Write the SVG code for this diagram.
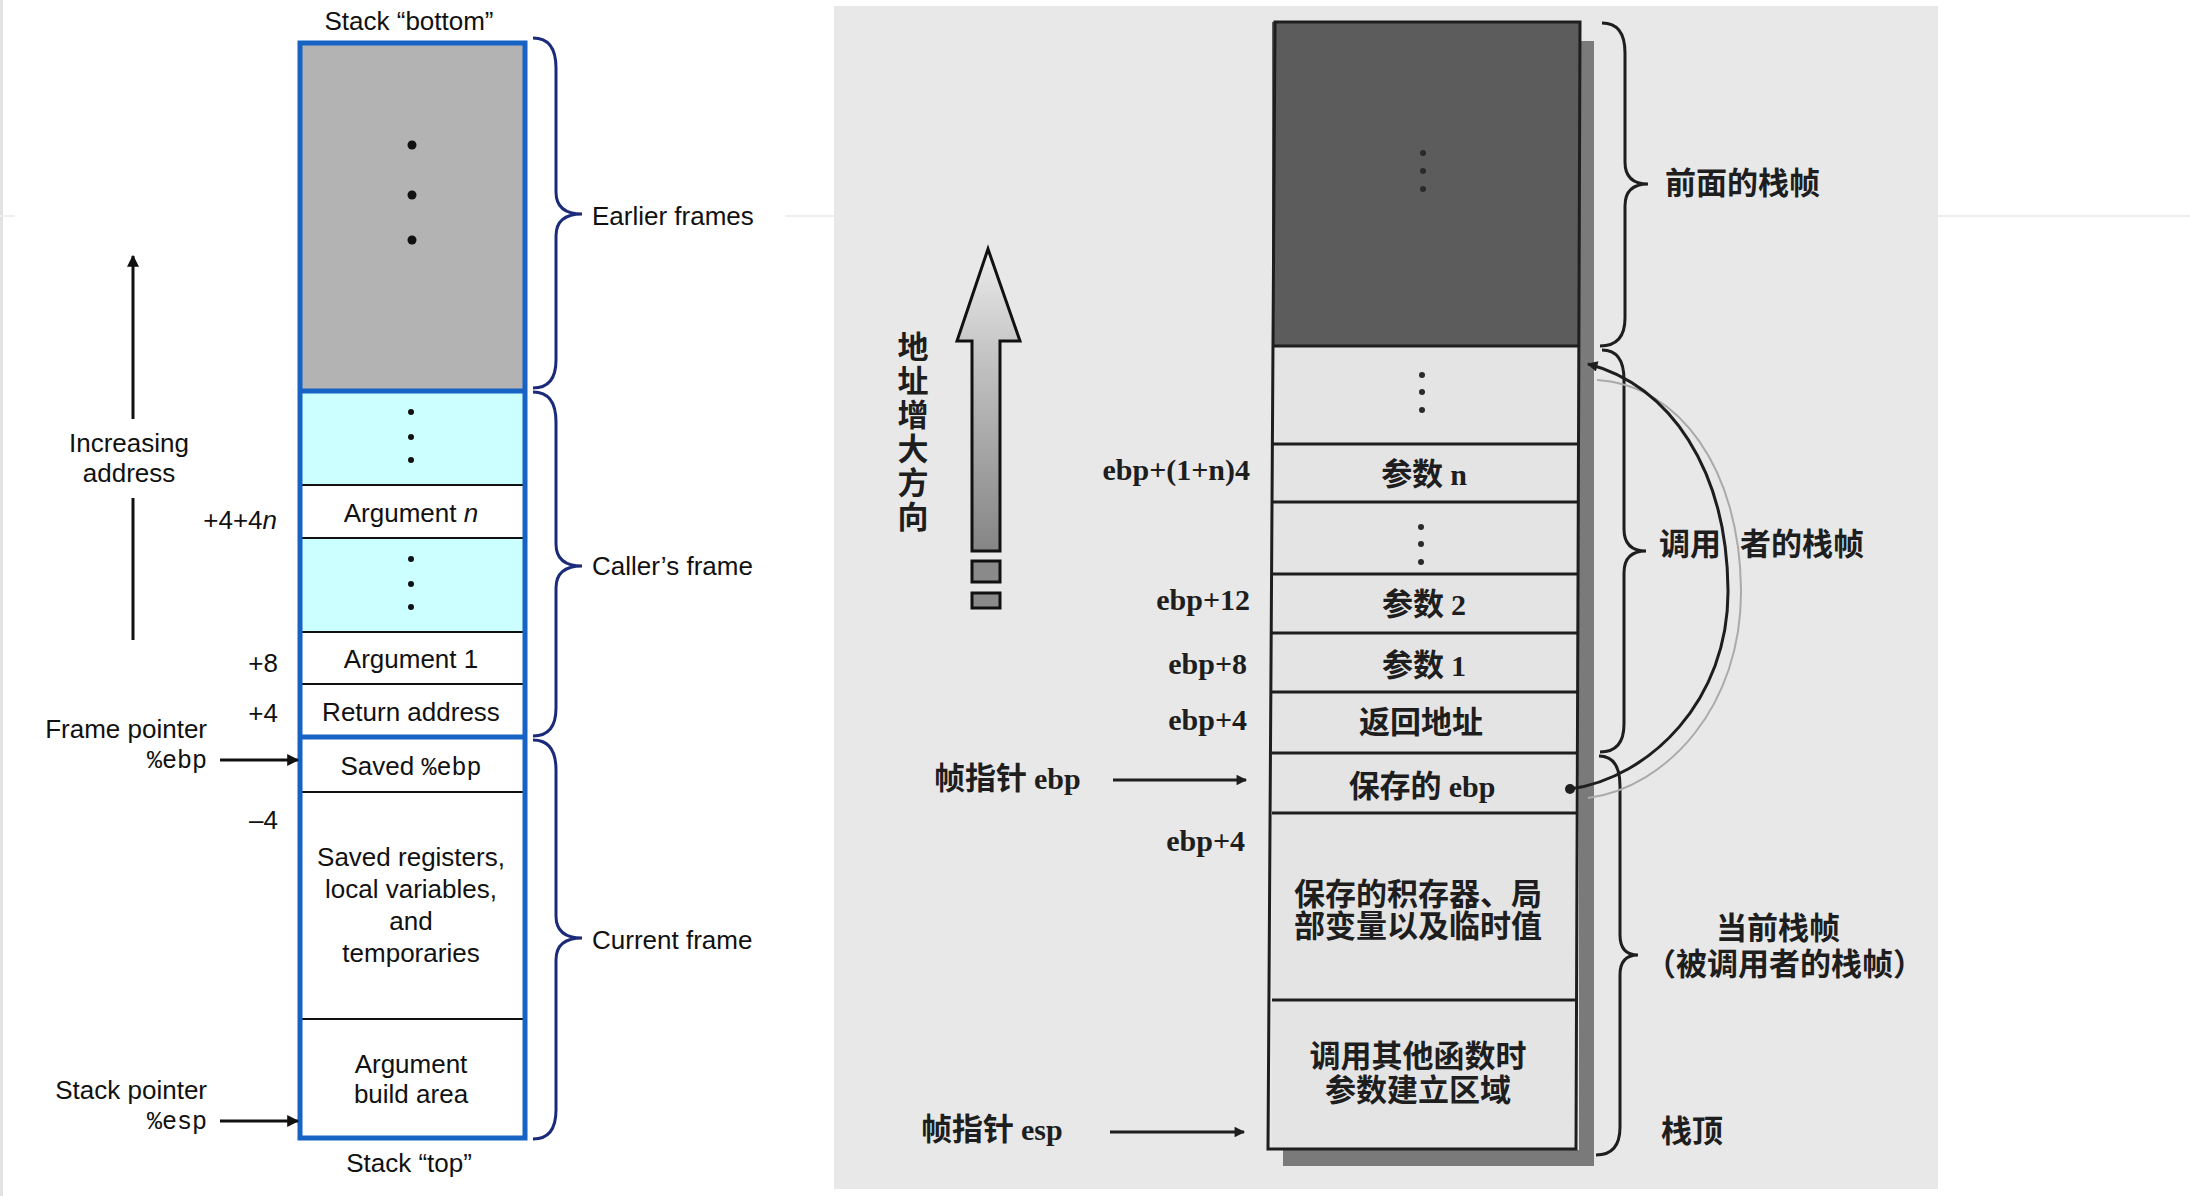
<svg xmlns="http://www.w3.org/2000/svg" width="2190" height="1196" viewBox="0 0 2190 1196">
<defs>
<style>
.sans{font-family:"Liberation Sans",Arial,sans-serif;font-size:26px;fill:#111}
.mono{font-family:"Liberation Mono","Courier New",monospace;font-size:25px;fill:#111}
.mid{text-anchor:middle}
.end{text-anchor:end}
.cell{fill:none;stroke:#111;stroke-width:2}
.blue{fill:none;stroke:#1763c4;stroke-width:5}
.brace{fill:none;stroke:#1c2a7a;stroke-width:3}
.rbrace{fill:none;stroke:#1e1e1e;stroke-width:3}
.cjk{font-family:"Noto Sans CJK SC","Noto Sans CJK TC",sans-serif;font-size:31px;font-weight:bold;fill:#1e1e1e}
.ser{font-family:"Liberation Serif","Times New Roman",serif;font-size:30px;font-weight:bold;fill:#1e1e1e}
.rline{fill:none;stroke:#1e1e1e;stroke-width:3}
.dot{fill:#111}
.rdot{fill:#2a2a2a}
</style>
<marker id="ah" viewBox="0 0 10 10" refX="9" refY="5" markerWidth="4" markerHeight="4" orient="auto" markerUnits="strokeWidth">
<path d="M0,0 L10,5 L0,10 z" fill="#111"/>
</marker>
<marker id="rah" viewBox="0 0 10 10" refX="9" refY="5" markerWidth="5" markerHeight="3.5" orient="auto" markerUnits="strokeWidth">
<path d="M0,0 L10,5 L0,10 z" fill="#1e1e1e"/>
</marker>
<linearGradient id="ag" x1="0" y1="0" x2="0" y2="1">
<stop offset="0" stop-color="#ececec"/>
<stop offset="0.35" stop-color="#c4c4c4"/>
<stop offset="1" stop-color="#858585"/>
</linearGradient>
</defs>
<rect x="0" y="0" width="2190" height="1196" fill="#ffffff"/>
<rect x="0" y="0" width="3" height="1196" fill="#e2e2e2"/>
<line x1="0" y1="216" x2="15" y2="216" stroke="#eeeeee" stroke-width="2"/>
<line x1="785" y1="216" x2="834" y2="216" stroke="#eeeeee" stroke-width="2"/>
<line x1="1938" y1="216" x2="2190" y2="216" stroke="#eeeeee" stroke-width="2"/>

<!-- LEFT DIAGRAM -->
<g id="left-stack">
<g id="l-earlier">
<rect x="300" y="43" width="225" height="348" fill="#b3b3b3"/>
<circle class="dot" cx="412" cy="145" r="4.5"/>
<circle class="dot" cx="412" cy="195" r="4.5"/>
<circle class="dot" cx="412" cy="240" r="4.5"/>
</g>
<g id="l-dots1">
<rect x="300" y="391" width="225" height="94" fill="#ccffff"/>
<circle class="dot" cx="411" cy="412" r="3"/>
<circle class="dot" cx="411" cy="437" r="3"/>
<circle class="dot" cx="411" cy="460" r="3"/>
</g>
<g id="l-argn">
<rect x="300" y="485" width="225" height="53" fill="#ffffff"/>
<text class="sans mid" x="411" y="522">Argument <tspan font-style="italic">n</tspan></text>
</g>
<g id="l-dots2">
<rect x="300" y="538" width="225" height="94" fill="#ccffff"/>
<circle class="dot" cx="411" cy="559" r="3"/>
<circle class="dot" cx="411" cy="584" r="3"/>
<circle class="dot" cx="411" cy="607" r="3"/>
</g>
<g id="l-arg1">
<rect x="300" y="632" width="225" height="52" fill="#ffffff"/>
<text class="sans mid" x="411" y="668">Argument 1</text>
</g>
<g id="l-ret">
<rect x="300" y="684" width="225" height="53" fill="#ffffff"/>
<text class="sans mid" x="411" y="721">Return address</text>
</g>
<g id="l-savedebp">
<rect x="300" y="737" width="225" height="55" fill="#ffffff"/>
<text class="sans mid" x="411" y="775">Saved <tspan class="mono">%ebp</tspan></text>
</g>
<g id="l-savedregs">
<rect x="300" y="792" width="225" height="227" fill="#ffffff"/>
<text class="sans mid" x="411" y="866">Saved registers,</text>
<text class="sans mid" x="411" y="898">local variables,</text>
<text class="sans mid" x="411" y="930">and</text>
<text class="sans mid" x="411" y="962">temporaries</text>
</g>
<g id="l-argbuild">
<rect x="300" y="1019" width="225" height="119" fill="#ffffff"/>
<text class="sans mid" x="411" y="1073">Argument</text>
<text class="sans mid" x="411" y="1103">build area</text>
</g>
<line class="cell" x1="300" y1="485" x2="525" y2="485"/>
<line class="cell" x1="300" y1="538" x2="525" y2="538"/>
<line class="cell" x1="300" y1="632" x2="525" y2="632"/>
<line class="cell" x1="300" y1="684" x2="525" y2="684"/>
<line class="cell" x1="300" y1="792" x2="525" y2="792"/>
<line class="cell" x1="300" y1="1019" x2="525" y2="1019"/>
<line class="blue" x1="300" y1="391" x2="525" y2="391"/>
<line class="blue" x1="300" y1="737" x2="525" y2="737"/>
<rect class="blue" x="300" y="43" width="225" height="1095"/>
</g>

<g id="left-labels">
<text class="sans mid" x="409" y="30">Stack “bottom”</text>
<text class="sans mid" x="409" y="1172">Stack “top”</text>
<text class="sans mid" x="129" y="452">Increasing</text>
<text class="sans mid" x="129" y="482">address</text>
<text class="sans end" x="277" y="529">+4+4<tspan font-style="italic">n</tspan></text>
<text class="sans end" x="278" y="672">+8</text>
<text class="sans end" x="278" y="722">+4</text>
<text class="sans end" x="278" y="829">–4</text>
<text class="sans end" x="207" y="738">Frame pointer</text>
<text class="mono end" x="207" y="768">%ebp</text>
<text class="sans end" x="207" y="1099">Stack pointer</text>
<text class="mono end" x="207" y="1129">%esp</text>
<text class="sans" x="592" y="225">Earlier frames</text>
<text class="sans" x="592" y="575">Caller’s frame</text>
<text class="sans" x="592" y="949">Current frame</text>
</g>

<g id="left-braces">
<path class="brace" d="M533,38 Q556,38 556,68 L556,192 Q556,214 582,214 Q556,214 556,236 L556,360 Q556,388 533,388"/>
<path class="brace" d="M533,392 Q556,392 556,422 L556,544 Q556,566 582,566 Q556,566 556,588 L556,708 Q556,736 533,736"/>
<path class="brace" d="M533,740 Q556,740 556,770 L556,916 Q556,938 582,938 Q556,938 556,960 L556,1110 Q556,1139 533,1139"/>
</g>

<!-- RIGHT PANEL -->
<g id="right-panel">
<rect x="834" y="6" width="1104" height="1183" fill="#e8e8e8"/>
<rect x="1579" y="41" width="15" height="1125" fill="#7a7a7a"/>
<rect x="1283" y="1150" width="311" height="16" fill="#7a7a7a"/>
</g>

<g id="right-stack">
<g id="r-earlier">
<rect x="1272" y="22" width="307" height="324" fill="#5c5c5c"/>
<circle class="rdot" cx="1423" cy="153" r="3"/>
<circle class="rdot" cx="1423" cy="171" r="3"/>
<circle class="rdot" cx="1423" cy="189" r="3"/>
</g>
<g id="r-dots1">
<rect x="1272" y="346" width="305" height="98" fill="#e4e4e4"/>
<circle class="rdot" cx="1422" cy="375" r="3"/>
<circle class="rdot" cx="1422" cy="392" r="3"/>
<circle class="rdot" cx="1422" cy="410" r="3"/>
</g>
<g id="r-argn">
<rect x="1272" y="444" width="305" height="58" fill="#e4e4e4"/>
<text class="cjk mid" x="1424" y="485">参数 <tspan class="ser">n</tspan></text>
</g>
<g id="r-dots2">
<rect x="1272" y="502" width="305" height="72" fill="#e4e4e4"/>
<circle class="rdot" cx="1421" cy="527" r="3"/>
<circle class="rdot" cx="1421" cy="544" r="3"/>
<circle class="rdot" cx="1421" cy="562" r="3"/>
</g>
<g id="r-arg2">
<rect x="1272" y="574" width="305" height="59" fill="#e4e4e4"/>
<text class="cjk mid" x="1424" y="615">参数 <tspan class="ser">2</tspan></text>
</g>
<g id="r-arg1">
<rect x="1272" y="633" width="305" height="59" fill="#e4e4e4"/>
<text class="cjk mid" x="1424" y="676">参数 <tspan class="ser">1</tspan></text>
</g>
<g id="r-ret">
<rect x="1272" y="692" width="305" height="61" fill="#e4e4e4"/>
<text class="cjk mid" x="1421" y="733">返回地址</text>
</g>
<g id="r-savedebp">
<rect x="1272" y="753" width="305" height="60" fill="#e4e4e4"/>
<text class="cjk mid" x="1422" y="797">保存的 <tspan class="ser">ebp</tspan></text>
</g>
<g id="r-savedregs">
<rect x="1272" y="813" width="305" height="187" fill="#e4e4e4"/>
<text class="cjk mid"><tspan x="1418" y="905">保存的积存器、局</tspan><tspan x="1418" y="937">部变量以及临时值</tspan></text>
</g>
<g id="r-argbuild">
<rect x="1272" y="1000" width="305" height="149" fill="#e4e4e4"/>
<text class="cjk mid"><tspan x="1418" y="1067">调用其他函数时</tspan><tspan x="1418" y="1101">参数建立区域</tspan></text>
</g>
<line class="rline" x1="1272" y1="346" x2="1579" y2="346"/>
<line class="rline" x1="1272" y1="444" x2="1577" y2="444"/>
<line class="rline" x1="1272" y1="502" x2="1577" y2="502"/>
<line class="rline" x1="1272" y1="574" x2="1577" y2="574"/>
<line class="rline" x1="1272" y1="633" x2="1577" y2="633"/>
<line class="rline" x1="1272" y1="692" x2="1577" y2="692"/>
<line class="rline" x1="1272" y1="753" x2="1577" y2="753"/>
<line class="rline" x1="1272" y1="813" x2="1577" y2="813"/>
<line class="rline" x1="1272" y1="1000" x2="1577" y2="1000"/>
<path class="rline" d="M1275,22 L1580,22 L1576,1149 L1268,1149 Z"/>
</g>

<g id="right-labels">
<text class="ser end" x="1250" y="480">ebp+(1+n)4</text>
<text class="ser end" x="1250" y="610">ebp+12</text>
<text class="ser end" x="1247" y="674">ebp+8</text>
<text class="ser end" x="1247" y="730">ebp+4</text>
<text class="ser end" x="1245" y="851">ebp+4</text>
<text class="cjk" x="934" y="789">帧指针 <tspan class="ser">ebp</tspan></text>
<text class="cjk" x="921" y="1140">帧指针 <tspan class="ser">esp</tspan></text>
<text class="cjk" x="1665" y="194">前面的栈帧</text>
<text class="cjk" y="555"><tspan x="1659">调用</tspan><tspan x="1740">者的栈帧</tspan></text>
<text class="cjk" font-size="30"><tspan x="1716" y="939">当前栈帧</tspan><tspan x="1645" y="975">（被调用者的栈帧）</tspan></text>
<text class="cjk" x="1661" y="1142">栈顶</text>
<text class="cjk" x="913" y="331" style="writing-mode:vertical-rl;letter-spacing:3px">地址增大方向</text>
</g>

<g id="addr-arrow">
<path d="M988,249 L1020,341 L1000,341 L1000,551 L972,551 L972,341 L957,341 Z" fill="url(#ag)" stroke="#111" stroke-width="3" stroke-linejoin="miter"/>
<rect x="972" y="561" width="28" height="21" fill="#8a8a8a" stroke="#111" stroke-width="3"/>
<rect x="972" y="593" width="28" height="15" fill="#8a8a8a" stroke="#111" stroke-width="3"/>
</g>

<g id="right-braces">
<path class="rbrace" d="M1602,23 Q1625,23 1625,53 L1625,162 Q1625,184 1648,184 Q1625,184 1625,206 L1625,318 Q1625,346 1600,346"/>
<path class="rbrace" d="M1602,350 Q1624,350 1624,380 L1624,529 Q1624,551 1646,551 Q1624,551 1624,573 L1624,724 Q1624,752 1600,752"/>
<path class="rbrace" d="M1599,756 Q1620,756 1620,786 L1620,935 Q1620,955 1638,955 Q1620,955 1620,975 L1620,1127 Q1620,1155 1596,1155"/>
</g>

<g id="connectors">
<line x1="133" y1="419" x2="133" y2="256" stroke="#111" stroke-width="3" marker-end="url(#ah)"/>
<line x1="133" y1="498" x2="133" y2="640" stroke="#111" stroke-width="3"/>
<line x1="220" y1="760" x2="298" y2="760" stroke="#111" stroke-width="3" marker-end="url(#ah)"/>
<line x1="220" y1="1121" x2="298" y2="1121" stroke="#111" stroke-width="3" marker-end="url(#ah)"/>
<line x1="1113" y1="780" x2="1246" y2="780" stroke="#1e1e1e" stroke-width="3" marker-end="url(#rah)"/>
<line x1="1110" y1="1132" x2="1244" y2="1132" stroke="#1e1e1e" stroke-width="3" marker-end="url(#rah)"/>
<path d="M1588,798 C1668,787 1742,705 1741,590 C1740,470 1680,385 1597,380" fill="none" stroke="#aaaaaa" stroke-width="2"/>
<path d="M1570,789 C1650,778 1729,700 1728,590 C1727,470 1670,385 1588,364" fill="none" stroke="#1e1e1e" stroke-width="3" marker-end="url(#rah)"/>
<circle cx="1570" cy="789" r="5" fill="#1e1e1e"/>
</g>
</svg>
